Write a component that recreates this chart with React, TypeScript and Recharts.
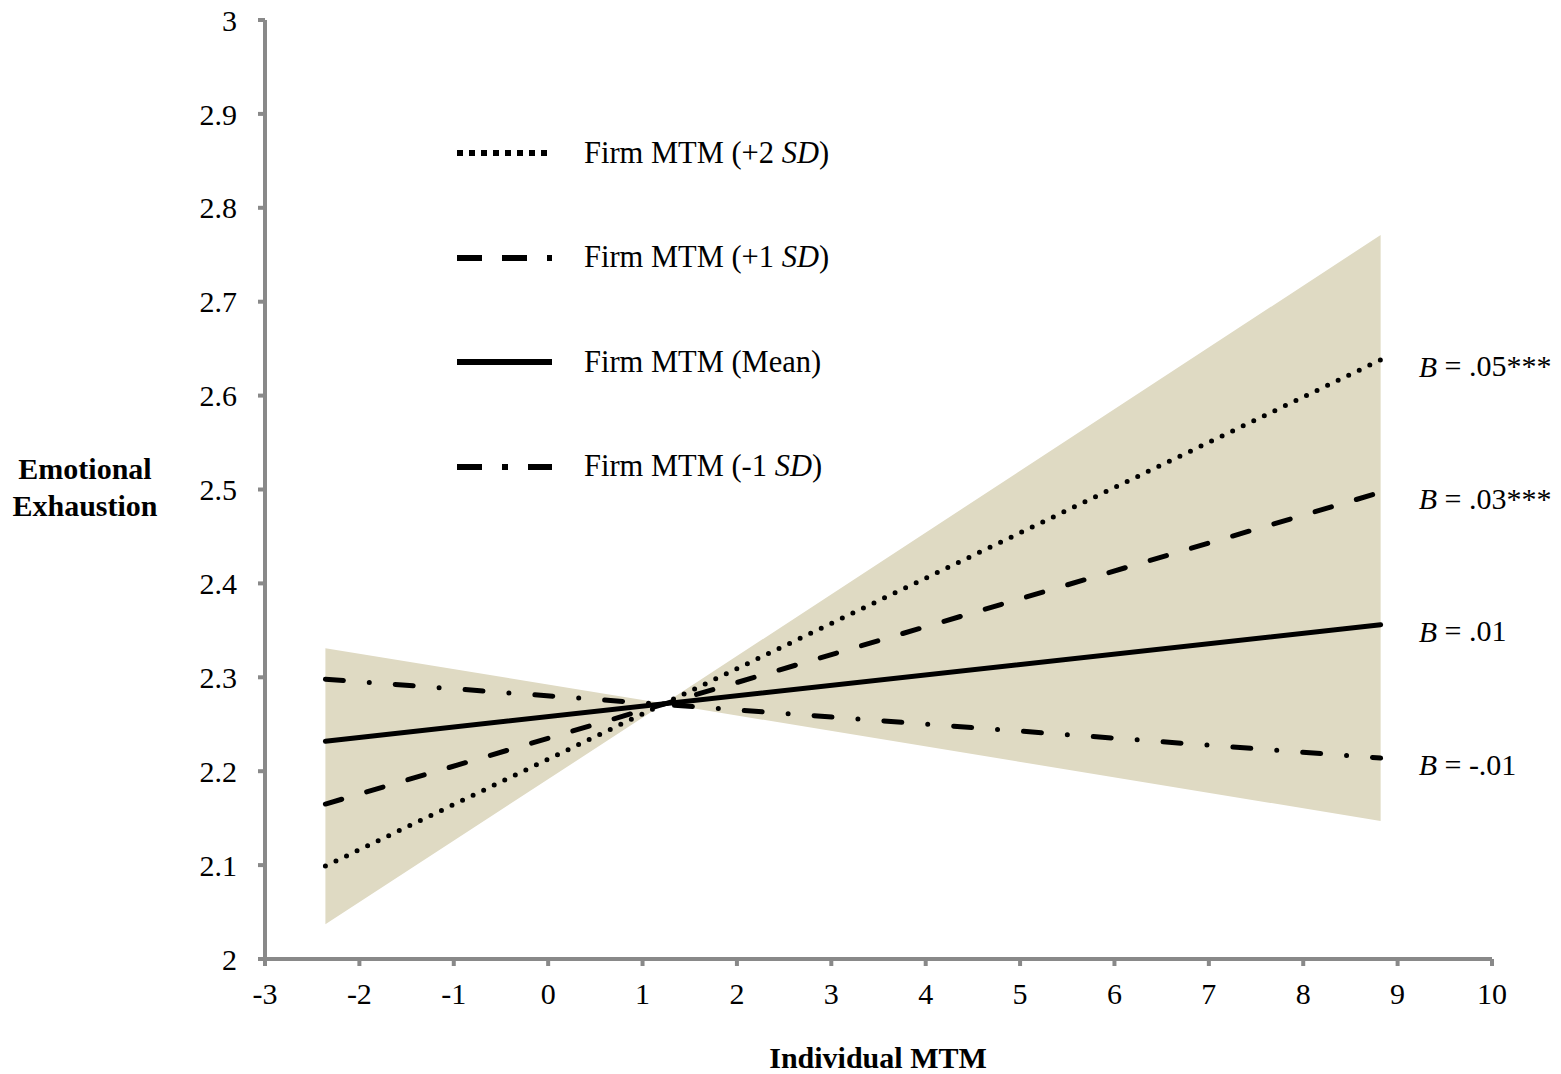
import React from "react";
import {
  ComposedChart, Area, Line, XAxis, YAxis, Legend, LabelList, Label,
} from "recharts";

// Individual MTM values (band edges + crossing point of the band)
const xs = [-2.36, 1.23, 8.82];
const bandLow = [2.037, 2.272, 2.147];
const bandHigh = [2.331, 2.272, 2.771];

// simple slopes (middle point is only for the band)
const plus2 = [2.099, null, 2.638];
const plus1 = [2.165, null, 2.497];
const mean = [2.232, null, 2.356];
const minus1 = [2.298, null, 2.214];

const slopeLabels = [".05***", ".03***", ".01", "-.01"];
const legendNames = ["+2", "+1", "Mean", "-1"];

const xTicks = [-3, -2, -1, 0, 1, 2, 3, 4, 5, 6, 7, 8, 9, 10];
const yTicks = [2, 2.1, 2.2, 2.3, 2.4, 2.5, 2.6, 2.7, 2.8, 2.9, 3];

const data = xs.map((x, i) => ({
  x,
  band: [bandLow[i], bandHigh[i]],
  plus2: plus2[i],
  plus1: plus1[i],
  mean: mean[i],
  minus1: minus1[i],
}));

const FONT = "'Liberation Serif', 'Times New Roman', serif";
const AXIS = "#898989";
const BAND = "#dfdac3";

const SERIES = [
  { key: "plus2", dash: "0 11.7", legendDash: "6 6" },
  { key: "plus1", dash: "17 26", legendDash: "25 20" },
  { key: "mean", dash: undefined, legendDash: undefined },
  { key: "minus1", dash: "18 26 0 26", legendDash: "25 20 6 20" },
];

const endLabel = (txt: string) => (props: any) => {
  const { x, y, index } = props;
  if (index !== xs.length - 1 || y == null) return null;
  return (
    <text x={x + 38} y={y + 6} dominantBaseline="central" fontSize={30}
          fontFamily={FONT} fill="#000">
      <tspan fontStyle="italic">B</tspan> = {txt}
    </text>
  );
};

const LegendBox = () => (
  <div style={{ fontFamily: FONT, fontSize: 30.5, color: "#000" }}>
    {SERIES.map((s, i) => (
      <div key={s.key} style={{ height: 104.5, display: "flex", alignItems: "center" }}>
        <svg width={95} height={8} style={{ display: "block" }}>
          <line x1={0} y1={4} x2={95} y2={4} stroke="#000" strokeWidth={6}
                strokeDasharray={s.legendDash} />
        </svg>
        <span style={{ marginLeft: 32, whiteSpace: "nowrap" }}>
          Firm MTM ({legendNames[i]}
          {legendNames[i] !== "Mean" && <> <i>SD</i></>})
        </span>
      </div>
    ))}
  </div>
);

export default function App() {
  const tick = { fontSize: 30, fill: "#000", fontFamily: FONT };
  return (
    <div style={{ marginTop: -8 }}>
      <ComposedChart width={1553} height={1074} data={data}
                     margin={{ top: 20, right: 69, left: 0, bottom: 0 }}>
        <XAxis dataKey="x" type="number" domain={[-3, 10]} ticks={xTicks}
               interval={0} height={115} tick={tick} tickSize={7} tickMargin={17}
               axisLine={{ stroke: AXIS, strokeWidth: 4 }}
               tickLine={{ stroke: AXIS, strokeWidth: 4 }}>
          <Label content={() => (
            <text x={870} y={1057} textAnchor="middle" dominantBaseline="central"
                  fontSize={30} fontWeight="bold" fontFamily={FONT}>Individual MTM</text>
          )} />
        </XAxis>
        <YAxis type="number" domain={[2, 3]} ticks={yTicks} interval={0} width={257}
               tick={tick} tickSize={7} tickMargin={21}
               axisLine={{ stroke: AXIS, strokeWidth: 4 }}
               tickLine={{ stroke: AXIS, strokeWidth: 4 }}>
          <Label content={() => (
            <text textAnchor="middle" fontSize={30} fontWeight="bold" fontFamily={FONT}>
              <tspan x={77} y={479}>Emotional</tspan>
              <tspan x={77} y={516}>Exhaustion</tspan>
            </text>
          )} />
        </YAxis>
        <Legend layout="vertical" align="center" verticalAlign="middle"
                content={<LegendBox />}
                wrapperStyle={{ left: 449, top: 101, width: 420 }} />
        <Area dataKey="band" type="linear" fill={BAND} fillOpacity={1} stroke="none"
              isAnimationActive={false} legendType="none" />
        {SERIES.map((s, i) => (
          <Line key={s.key} dataKey={s.key} type="linear" connectNulls
                stroke="#000" strokeWidth={5} strokeLinecap="round"
                strokeDasharray={s.dash} dot={false} activeDot={false}
                isAnimationActive={false}>
            <LabelList dataKey={s.key} content={endLabel(slopeLabels[i])} />
          </Line>
        ))}
      </ComposedChart>
    </div>
  );
}
